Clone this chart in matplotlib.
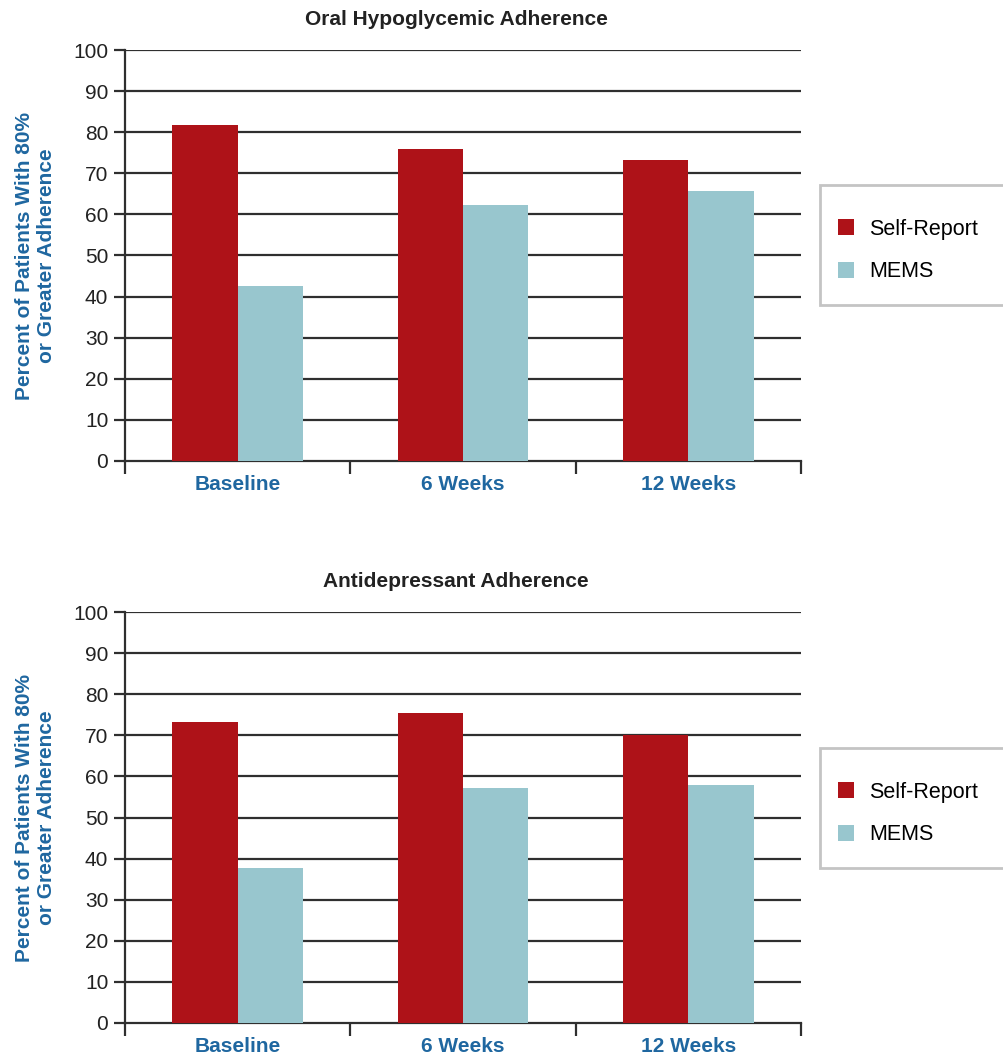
import matplotlib.pyplot as plt
from matplotlib.patches import Rectangle
from matplotlib.ticker import FixedLocator

categories = ['Baseline', '6 Weeks', '12 Weeks']
series_names = ['Self-Report', 'MEMS']

oral_self = [81.8, 75.9, 73.2]
oral_mems = [42.6, 62.3, 65.8]

antidep_self = [73.3, 75.5, 70.1]
antidep_mems = [37.8, 57.2, 57.8]

titles = ['Oral Hypoglycemic Adherence', 'Antidepressant Adherence']
ylabel = 'Percent of Patients With 80%\nor Greater Adherence'

RED = '#ae1218'
CYAN = '#98c6ce'
BLUE = '#1f67a0'
GRID = '#2f2f2f'

plt.rcParams['font.family'] = ['Liberation Sans', 'DejaVu Sans']

fig = plt.figure(figsize=(10.04, 10.56), dpi=100)


def draw_panel(rect, title, self_vals, mems_vals, legend_top):
    ax = fig.add_axes(rect)
    x = list(range(len(categories)))
    w = 0.29
    ax.bar([i - w / 2 for i in x], self_vals, width=w, color=RED, zorder=3, label=series_names[0])
    ax.bar([i + w / 2 for i in x], mems_vals, width=w, color=CYAN, zorder=3, label=series_names[1])

    ax.set_xlim(-0.5, len(categories) - 0.5)
    ax.set_ylim(0, 100)
    ax.set_yticks(range(0, 101, 10))
    for y in range(10, 101, 10):
        ax.axhline(y, color=GRID, lw=1.6, zorder=1)

    # boundary ticks (no labels) and centred category labels
    ax.xaxis.set_major_locator(FixedLocator([i - 0.5 for i in range(len(categories) + 1)]))
    ax.xaxis.set_major_formatter(plt.NullFormatter())
    ax.xaxis.set_minor_locator(FixedLocator(x))
    ax.set_xticklabels(categories, minor=True)
    ax.tick_params(axis='x', which='major', direction='out', length=9, width=1.6, color=GRID)
    ax.tick_params(axis='x', which='minor', length=0, pad=10, labelsize=15, labelcolor=BLUE)
    for lab in ax.get_xticklabels(minor=True):
        lab.set_fontweight('bold')
    ax.tick_params(axis='y', direction='out', length=8, width=1.6, color=GRID,
                   labelsize=15, labelcolor='#222222', pad=4)

    for s in ['top', 'right']:
        ax.spines[s].set_visible(False)
    for s in ['left', 'bottom']:
        ax.spines[s].set_color(GRID)
        ax.spines[s].set_linewidth(1.6)
    ax.spines['left'].set_bounds(0, 100)

    ax.text(0.49, 1.073, title, transform=ax.transAxes, ha='center', va='center',
            fontsize=15, fontweight='bold', color='#222222')
    ax.set_ylabel(ylabel, fontsize=15, fontweight='bold', color=BLUE, linespacing=1.2)
    ax.yaxis.set_label_coords(-0.102, 0.5)

    # legend box running off the right edge
    fig.patches.append(Rectangle((820 / 1004, 1 - (legend_top + 120) / 1056), 0.2, 120 / 1056,
                                 transform=fig.transFigure, facecolor='white',
                                 edgecolor='#c4c4c4', lw=2))
    fig.legend(*ax.get_legend_handles_labels(), loc='upper left',
               bbox_to_anchor=(829 / 1004, 1 - (legend_top + 25) / 1056),
               frameon=False, fontsize=15.5, handlelength=0.75, handleheight=0.75,
               handletextpad=0.7, labelspacing=1.0, borderaxespad=0)
    return ax


draw_panel([125 / 1004, 1 - 461 / 1056, 676 / 1004, 411 / 1056], titles[0], oral_self, oral_mems, 185)
draw_panel([125 / 1004, 1 - 1023 / 1056, 676 / 1004, 411 / 1056], titles[1], antidep_self, antidep_mems, 748)

fig.savefig('out.png', dpi=100)
